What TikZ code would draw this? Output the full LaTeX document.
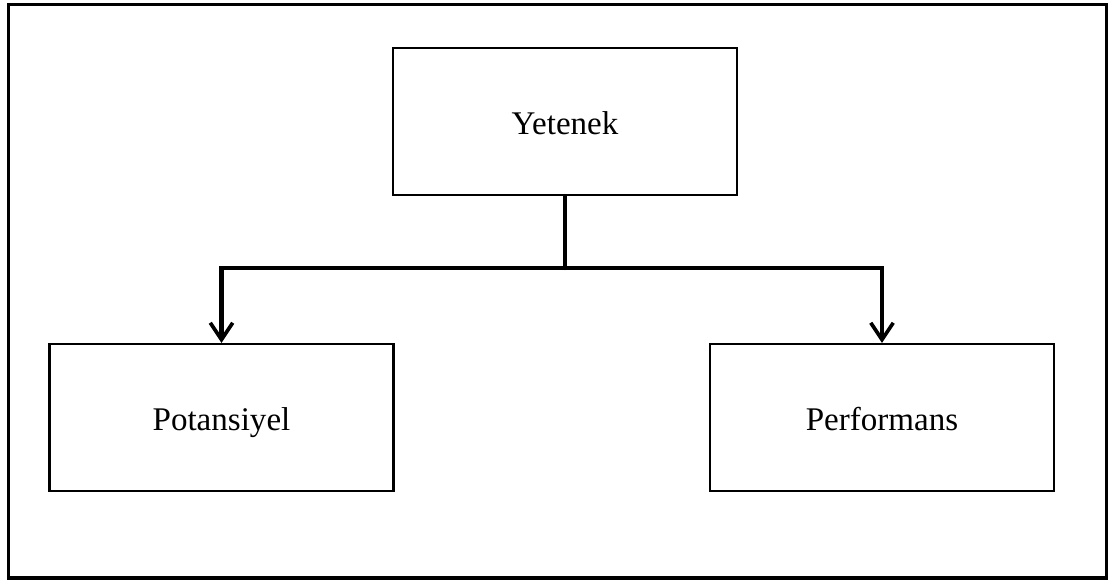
\documentclass[tikz,border=0pt]{standalone}
\usepackage{fontspec}
\setmainfont{Liberation Serif}
\usetikzlibrary{arrows.meta,calc}

\begin{document}
\begin{tikzpicture}[x=0.025cm,y=-0.025cm,cap=round]
\tikzstyle{kutu}=[draw=black,line width=1.5pt,minimum width=344*0.025cm,minimum height=147*0.025cm,inner sep=0pt,text height=21pt,text depth=3pt,font=\fontsize{23.5}{28}\selectfont]
\tikzstyle{ok}=[line width=3pt,-{Straight Barb[length=12pt,width=16pt,line width=2.6pt]}]
\useasboundingbox (0,0) rectangle (1115,582);
\draw[line width=2.4pt,cap=butt] (8.5,4.5) rectangle (1106.5,578);
\node[kutu] (Y) at (565,121.5) {Yetenek};
\node[kutu] (P) at (221.5,417.5) {Potansiyel};
\node[kutu] (F) at (882,417.5) {Performans};
\coordinate (M) at (Y.south |- 0,268);
\draw[line width=3pt] (Y.south) to (M);
\draw[ok] (M) -| (P.north);
\draw[ok] (M) -| (F.north);
\end{tikzpicture}
\end{document}
